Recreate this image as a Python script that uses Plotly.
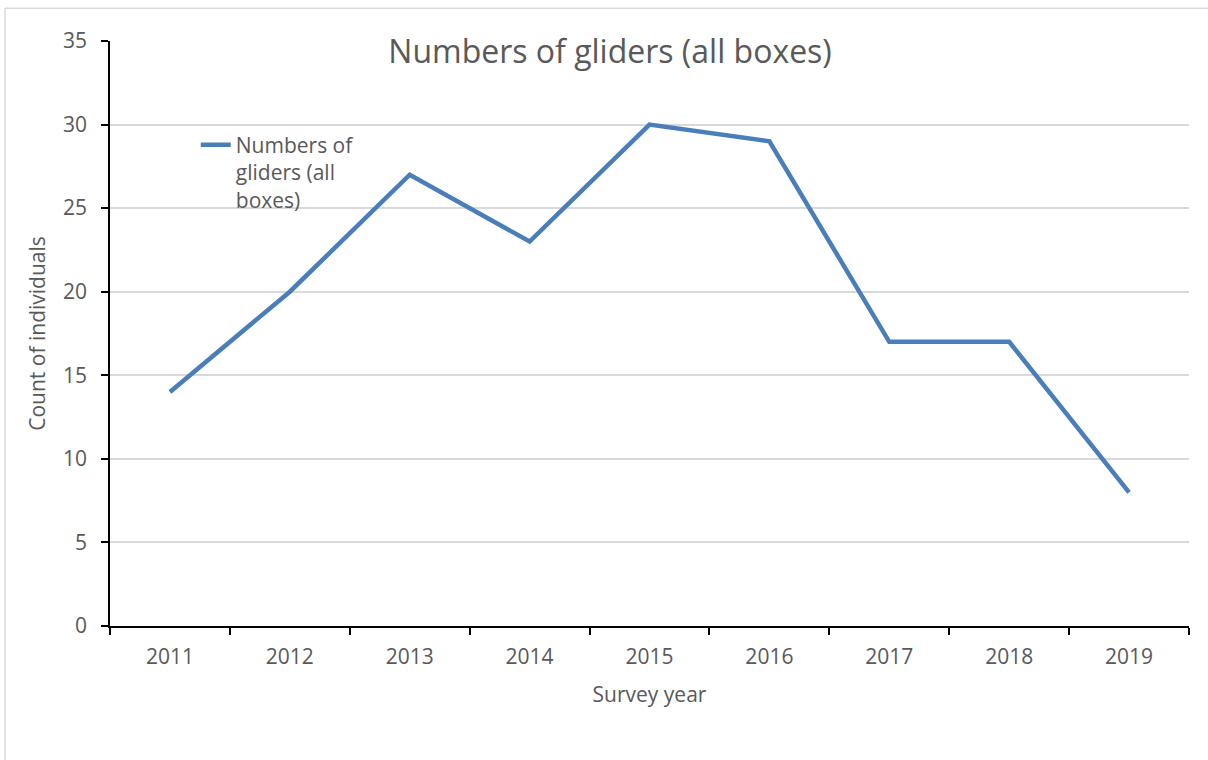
import plotly.graph_objects as go

years = ["2011", "2012", "2013", "2014", "2015", "2016", "2017", "2018", "2019"]
counts = [14, 20, 27, 23, 30, 29, 17, 17, 8]
series_name = "Numbers of<br>gliders (all<br>boxes)"
y_ticks = [0, 5, 10, 15, 20, 25, 30, 35]

FONT = "Open Sans"
GREY = "#595959"
BORDER = dict(color="#d9d9d9", width=1.5)

fig = go.Figure()
fig.add_trace(go.Scatter(
    x=years, y=counts, mode="lines", name=series_name,
    line=dict(color="#4a7ebb", width=4.5),
))

fig.update_layout(
    width=1208, height=760,
    margin=dict(l=110, r=19, t=41, b=134),
    paper_bgcolor="white", plot_bgcolor="white",
    font=dict(family=FONT, size=21, color=GREY),
    title=dict(text="Numbers of gliders (all boxes)", x=0.505, xref="container",
               xanchor="center", y=1 - 52 / 760, yref="container", yanchor="middle",
               font=dict(family=FONT, size=32, color=GREY)),
    showlegend=True,
    legend=dict(x=0.0795, y=0.857, xanchor="left", yanchor="top", valign="top",
                bgcolor="rgba(0,0,0,0)", font=dict(family=FONT, size=21, color=GREY),
                tracegroupgap=0),
    shapes=[
        dict(type="line", xref="paper", yref="paper", x0=-0.0973, x1=-0.0973,
             y0=-0.4, y1=1.056, line=BORDER, layer="below"),
        dict(type="line", xref="paper", yref="paper", x0=-0.0973, x1=1.05,
             y0=1.056, y1=1.056, line=BORDER, layer="below"),
    ],
)

fig.update_xaxes(
    type="category", range=[-0.5, 8.5], tickson="boundaries",
    showline=True, linecolor="black", linewidth=1.5,
    ticks="outside", ticklen=7, tickcolor="black", tickwidth=1.5,
    showgrid=False, zeroline=False,
    tickfont=dict(family=FONT, size=21, color=GREY), ticklabelstandoff=11,
    title=dict(text="Survey year", font=dict(family=FONT, size=21, color=GREY), standoff=18),
)
fig.update_yaxes(
    range=[0, 35], tickvals=y_ticks,
    showline=True, linecolor="black", linewidth=1.5,
    ticks="outside", ticklen=7, tickcolor="black", tickwidth=1.5,
    showgrid=True, gridcolor="#d9d9d9", gridwidth=1.5, zeroline=False,
    tickfont=dict(family=FONT, size=21, color=GREY), ticklabelstandoff=10,
    title=dict(text="Count of individuals", font=dict(family=FONT, size=21, color=GREY), standoff=12),
)

fig.write_html("out.html", config={"displayModeBar": False},
               post_script="document.body.style.margin='0';document.body.style.overflow='hidden';")
